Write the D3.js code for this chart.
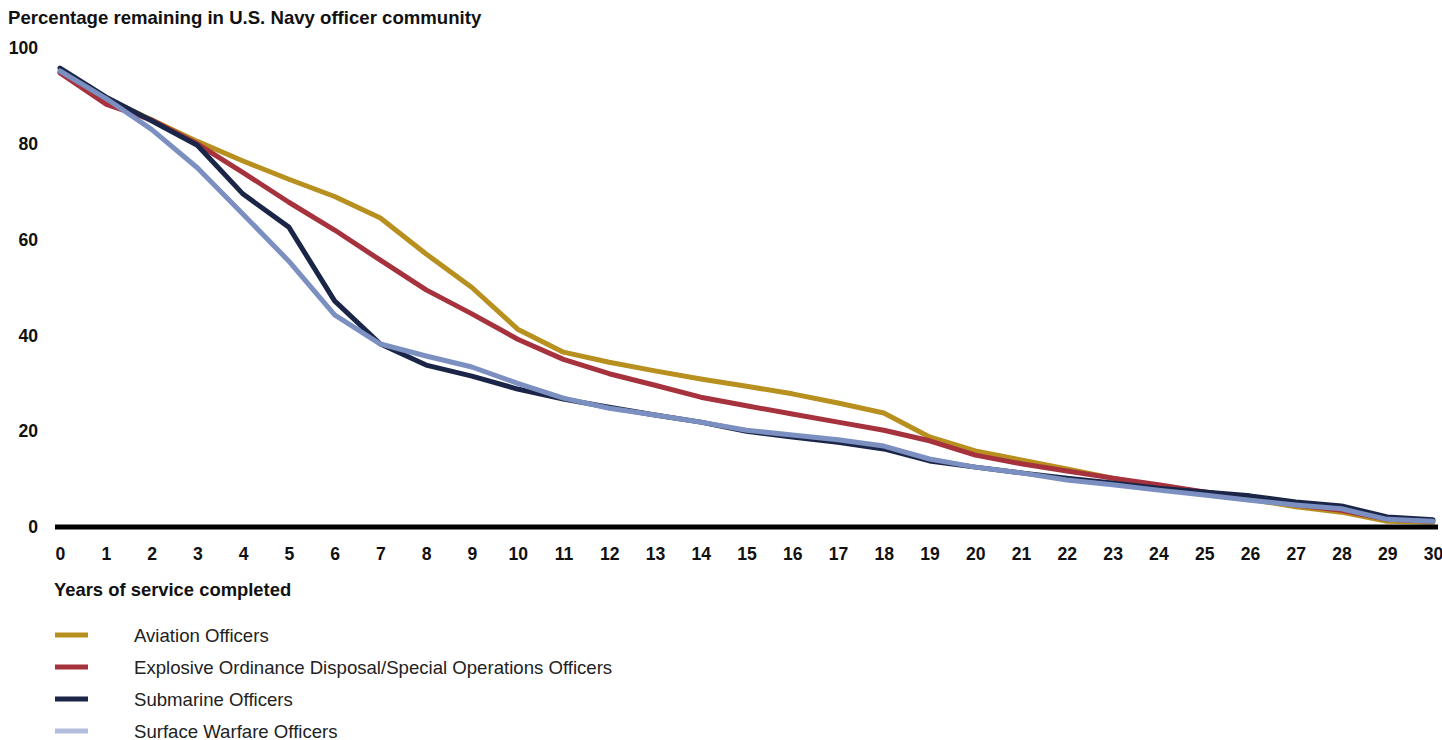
<!DOCTYPE html>
<html>
<head>
<meta charset="utf-8">
<script src="https://cdn.jsdelivr.net/npm/d3@7"></script>
<style>
  body { margin: 0; background: #fff; }
  text { font-family: "Liberation Sans", Arial, sans-serif; }
</style>
</head>
<body>
<svg id="chart" width="1442" height="740"></svg>
<script>
const years = d3.range(0, 31);
const yTicks = [0, 20, 40, 60, 80, 100];
const seriesNames = [
  "Aviation Officers",
  "Explosive Ordinance Disposal/Special Operations Officers",
  "Submarine Officers",
  "Surface Warfare Officers"
];
const aviation = [95, 89.5, 85, 80.5, 76.4, 72.6, 69, 64.5, 57, 50, 41.3, 36.5, 34.4, 32.6, 30.9, 29.4, 27.8, 25.9, 23.8, 18.8, 15.9, 14, 12.1, 10.2, 8.5, 7.3, 5.8, 4.2, 3.1, 1.2, 1.0];
const eod = [94.8, 88.3, 85, 80, 74, 67.8, 62, 55.7, 49.5, 44.5, 39.2, 35, 32, 29.6, 27.1, 25.3, 23.6, 21.9, 20.2, 18, 15, 13.2, 11.7, 10.2, 8.8, 7.3, 6, 4.6, 3.5, 1.6, 1.2];
const submarine = [95.8, 89.8, 84.8, 79.7, 69.5, 62.6, 47.2, 38.2, 33.8, 31.5, 28.8, 26.7, 25, 23.4, 21.9, 20, 18.8, 17.7, 16.3, 13.8, 12.5, 11.3, 10.2, 9.2, 8.1, 7.3, 6.5, 5.2, 4.4, 2.1, 1.5];
const surface = [95.2, 89.5, 83, 75, 65.3, 55.5, 44.3, 38.2, 35.7, 33.4, 30, 26.9, 24.8, 23.4, 21.9, 20.2, 19.2, 18.2, 16.9, 14.2, 12.5, 11.3, 9.8, 8.8, 7.7, 6.7, 5.6, 4.6, 3.8, 1.6, 1.2];
const lineColors = ["#b8901f", "#a6323e", "#1a2547", "#7b8fc1"];
const legendColors = ["#b8901f", "#a6323e", "#1a2547", "#b4bcdc"];
const allSeries = [aviation, eod, submarine, surface];

const svg = d3.select("#chart");
const x = d3.scaleLinear().domain([0, 30]).range([60, 1433]);
const y = d3.scaleLinear().domain([0, 100]).range([527, 48]);

// Title
svg.append("text").attr("x", 8).attr("y", 24)
  .attr("font-size", 18.6).attr("font-weight", "bold").attr("fill", "#111")
  .text("Percentage remaining in U.S. Navy officer community");

// Y axis labels
const yAxis = d3.axisLeft(y).tickValues(yTicks).tickSize(0).tickPadding(0);
const gy = svg.append("g").attr("transform", "translate(38,0)").call(yAxis);
gy.select(".domain").remove();
gy.selectAll("text").attr("font-size", 17.6).attr("font-weight", "bold")
  .attr("fill", "#111").attr("font-family", "Liberation Sans, Arial, sans-serif");

// X axis labels
const xAxis = d3.axisBottom(x).tickValues(years).tickSize(0).tickPadding(0).tickFormat(d3.format("d"));
const gx = svg.append("g").attr("transform", "translate(0,547)").call(xAxis);
gx.select(".domain").remove();
gx.selectAll("text").attr("font-size", 17.6).attr("font-weight", "bold")
  .attr("fill", "#111").attr("font-family", "Liberation Sans, Arial, sans-serif");

// X axis title
svg.append("text").attr("x", 54).attr("y", 596)
  .attr("font-size", 18.4).attr("font-weight", "bold").attr("fill", "#111")
  .text("Years of service completed");

// Lines
const line = d3.line().x((d, i) => x(years[i])).y(d => y(d));
svg.append("g").selectAll("path").data(allSeries).join("path")
  .attr("d", d => line(d))
  .attr("fill", "none")
  .attr("stroke", (d, i) => lineColors[i])
  .attr("stroke-width", 5)
  .attr("stroke-linejoin", "round")
  .attr("stroke-linecap", "round");

// Baseline
svg.append("line")
  .attr("x1", 55).attr("x2", 1438)
  .attr("y1", y(0)).attr("y2", y(0))
  .attr("stroke", "#000").attr("stroke-width", 5);

// Legend
const lg = svg.append("g").selectAll("g").data(seriesNames).join("g")
  .attr("transform", (d, i) => `translate(0,${635 + i * 32})`);
lg.append("line").attr("x1", 55).attr("x2", 88).attr("y1", 0).attr("y2", 0)
  .attr("stroke", (d, i) => legendColors[i]).attr("stroke-width", 5);
lg.append("text").attr("x", 134).attr("y", 6.5)
  .attr("font-size", 18.6).attr("fill", "#222").text(d => d);
</script>
</body>
</html>
